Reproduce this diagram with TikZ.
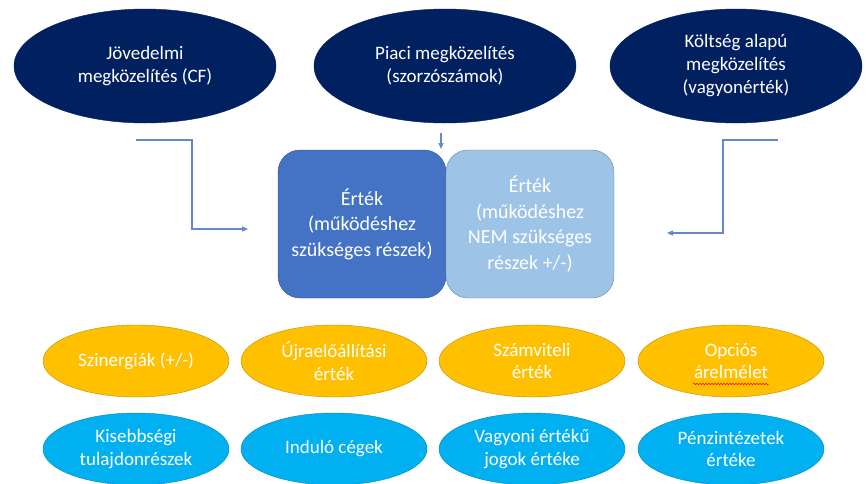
\documentclass[tikz,border=0pt]{standalone}
\usepackage{fontspec}
\setmainfont{Carlito}
\usetikzlibrary{arrows.meta,shapes.geometric,decorations.pathmorphing}
\definecolor{navy}{RGB}{0,32,96}
\definecolor{gold}{RGB}{255,192,0}
\definecolor{sky}{RGB}{0,176,240}
\definecolor{ocean}{RGB}{68,114,196}
\definecolor{pale}{RGB}{157,195,230}
\definecolor{wire}{RGB}{100,136,204}
\tikzset{
  >={Triangle[length=6pt,width=5pt]},
  approach/.style={ellipse,fill=navy,draw=navy,text=white,inner sep=0pt,
    minimum width=262pt,minimum height=114pt,align=center,
    font=\fontsize{19}{23}\selectfont},
  value/.style={draw=#1!70!black,fill=#1,rounded corners=22pt,thin,
    minimum width=168pt,minimum height=148pt,text=white,align=center,
    font=\fontsize{20}{25.5}\selectfont},
  value/.default=ocean,
  method/.style={ellipse,fill=#1,draw=#1!75!black,text=white,inner sep=0pt,
    minimum width=186pt,minimum height=72pt,align=center,
    font=\fontsize{19}{22.5}\selectfont},
  method/.default=gold,
  link/.style={->,draw=wire,line width=1.1pt},
}
\begin{document}
\begin{tikzpicture}[x=1pt,y=-1pt]
  \useasboundingbox[fill=white] (0,0) rectangle (866,483);
  % approaches
  \node[approach] (jov) at (145,66) {Jövedelmi\\megközelítés (CF)};
  \node[approach] (piac) at (445,66) {Piaci megközelítés\\(szorzószámok)};
  \node[approach,minimum width=252pt] (kolt) at (736,66) {Költség alapú\\megközelítés\\(vagyonérték)};
  % value blocks
  \node[value] (ertek) at (362,224) {Érték\\(működéshez\\szükséges részek)};
  \node[value=pale] (nem) at (530,224) {Érték\\(működéshez\\NEM szükséges\\részek +/-)};
  % arrows (free ends)
  \coordinate (jin) at (136,140);
  \coordinate (jout) at (248,229);
  \coordinate (pin) at (441,133);
  \coordinate (pout) at (441,149);
  \coordinate (kin) at (778,140);
  \coordinate (kout) at (667,233);
  \draw[link] (jin) -- ++(56,0) |- (jout);
  \draw[link] (pin) -- (pout);
  \draw[link] (kin) -- ++(-55,0) |- (kout);
  % other methods
  \foreach \X/\n/\t in {136/szin/{Szinergiák (+/-)},334/ujra/Újraelőállítási\\érték,
      532/szam/Számviteli\\érték,731/opc/Opciós\\árelmélet}
    \node[method] (\n) at (\X,361) {\t};
  \foreach \X/\n/\t in {136/kis/Kisebbségi\\tulajdonrészek,334/ind/Induló cégek,
      532/vag/Vagyoni értékű\\jogok értéke,731/penz/Pénzintézetek\\értéke}
    \node[method=sky] (\n) at (\X,449) {\t};
  \draw[red,line width=0.5pt,decorate,decoration={snake,amplitude=0.8pt,segment length=3pt}]
    ([xshift=-38pt,yshift=-23pt]opc.center) -- ([xshift=38pt,yshift=-23pt]opc.center);
\end{tikzpicture}
\end{document}
